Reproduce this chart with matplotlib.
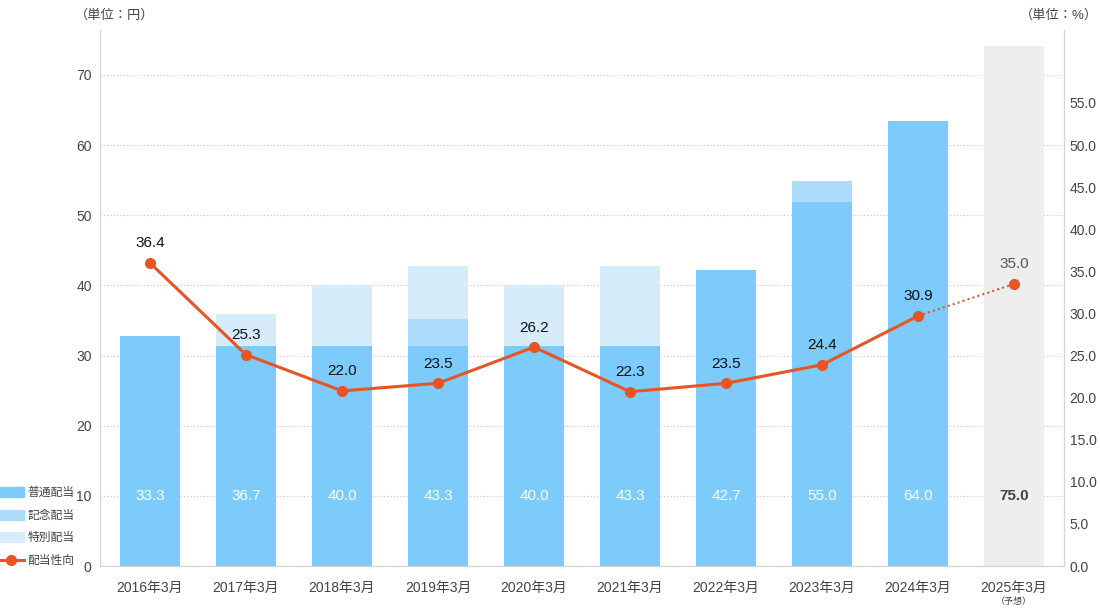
import matplotlib
matplotlib.use("Agg")
import matplotlib.pyplot as plt
from matplotlib.patches import Patch
from matplotlib.lines import Line2D
import numpy as np

plt.rcParams['font.family'] = ['Liberation Sans', 'Noto Sans CJK JP', 'DejaVu Sans']

categories = ["2016年3月", "2017年3月", "2018年3月", "2019年3月", "2020年3月",
              "2021年3月", "2022年3月", "2023年3月", "2024年3月", "2025年3月"]
# bar segments (円) as drawn
ordinary = [32.8, 31.4, 31.4, 31.4, 31.4, 31.4, 42.2, 51.9, 63.4, 0.0]
commemorative = [0.0, 0.0, 0.0, 3.8, 0.0, 0.0, 0.0, 3.0, 0.0, 0.0]
special = [0.0, 4.5, 8.6, 7.6, 8.6, 11.4, 0.0, 0.0, 0.0, 0.0]
forecast = [0, 0, 0, 0, 0, 0, 0, 0, 0, 74.1]
total_labels = ["33.3", "36.7", "40.0", "43.3", "40.0", "43.3", "42.7", "55.0", "64.0", "75.0"]
# payout ratio (%) as drawn
payout = [36.0, 25.1, 20.8, 21.7, 26.0, 20.7, 21.7, 23.9, 29.7, 33.5]
payout_labels = ["36.4", "25.3", "22.0", "23.5", "26.2", "22.3", "23.5", "24.4", "30.9", "35.0"]
left_ticks = [0, 10, 20, 30, 40, 50, 60, 70]
right_ticks = [0, 5, 10, 15, 20, 25, 30, 35, 40, 45, 50, 55]
legend_labels = ["普通配当", "記念配当", "特別配当", "配当性向"]

c_ord = "#7ccbfa"
c_com = "#abddfb"
c_spe = "#d7ecfa"
c_fc = "#eeeeee"
c_line = "#e85424"
c_text = "#444444"

fig = plt.figure(figsize=(11, 6.1), dpi=100)
ax = fig.add_axes([100/1100, 44/610, 964/1100, 536/610])
ax2 = ax.twinx()

x = np.arange(len(categories))
w = 0.625
ordv = np.array(ordinary); comv = np.array(commemorative); spev = np.array(special)
ax.bar(x, ordv, w, color=c_ord, zorder=2)
ax.bar(x, comv, w, bottom=ordv, color=c_com, zorder=2)
ax.bar(x, spev, w, bottom=ordv + comv, color=c_spe, zorder=2)
ax.bar(x, forecast, w, color=c_fc, zorder=2)

ax.set_xlim(-0.52, 9.52)
ax.set_ylim(0, 76.4)
ax.set_yticks(left_ticks)
ax.set_yticklabels([str(t) for t in left_ticks])
ax.grid(axis='y', linestyle=(0, (1, 2)), color="#c4c4c4", linewidth=0.8, zorder=0)
ax.set_axisbelow(True)
ax.tick_params(axis='y', length=0, labelsize=10, colors=c_text, pad=6)
ax.tick_params(axis='x', length=0, labelsize=10, colors=c_text, pad=11)
ax.set_xticks(x)
ax.set_xticklabels(categories)
for s in ["top"]:
    ax.spines[s].set_visible(False)
    ax2.spines[s].set_visible(False)
for s in ["left", "right", "bottom"]:
    ax.spines[s].set_color("#d5d5d5")
    ax2.spines[s].set_color("#d5d5d5")

for i, lab in enumerate(total_labels):
    if i < len(categories) - 1:
        ax.text(x[i], 10, lab, ha='center', va='center', color='white', fontsize=11)
    else:
        ax.text(x[i], 10, lab, ha='center', va='center', color=c_text, fontsize=11,
                fontweight='bold')

ax.text(x[-1], -5.0, "（予想）", ha='center', va='center', fontsize=6.5, color=c_text)

ax2.set_ylim(0, 76.4 / 1.2)
ax2.set_yticks(right_ticks)
ax2.set_yticklabels([f"{t:.1f}" for t in right_ticks])
ax2.tick_params(axis='y', length=0, labelsize=10, colors=c_text, pad=4)

p = np.array(payout)
ax2.plot(x[:-1], p[:-1], color=c_line, linewidth=2.2, marker='o', markersize=7, zorder=5)
ax2.plot(x[-2:], p[-2:], color=c_line, linewidth=1.5, linestyle=(0, (1, 1.5)), zorder=4)
ax2.plot(x[-1:], p[-1:], color=c_line, marker='o', markersize=7, linestyle='none', zorder=5)
for i, lab in enumerate(payout_labels):
    col = "#111111" if i < len(categories) - 1 else "#555555"
    ax2.annotate(lab, (x[i], p[i]), xytext=(0, 9), textcoords='offset points',
                 ha='center', va='bottom', fontsize=11, color=col, zorder=6)

fig.text(75/1100, 1 - 15/610, "（単位：円）", ha='left', va='center', fontsize=9.5, color=c_text)
fig.text(1098/1100, 1 - 15/610, "（単位：%）", ha='right', va='center', fontsize=9.5, color=c_text)

handles = [Patch(color=c_ord), Patch(color=c_com), Patch(color=c_spe),
           Line2D([0], [0], color=c_line, linewidth=2.2, marker='o', markersize=7)]
fig.legend(handles, legend_labels, loc='lower left', bbox_to_anchor=(-0.002, 43/610),
           frameon=False, fontsize=8.5, handlelength=2.2, handleheight=0.9,
           handletextpad=0.3, labelspacing=0.9, borderaxespad=0, borderpad=0,
           labelcolor=c_text)

fig.savefig("out.png", dpi=100)
